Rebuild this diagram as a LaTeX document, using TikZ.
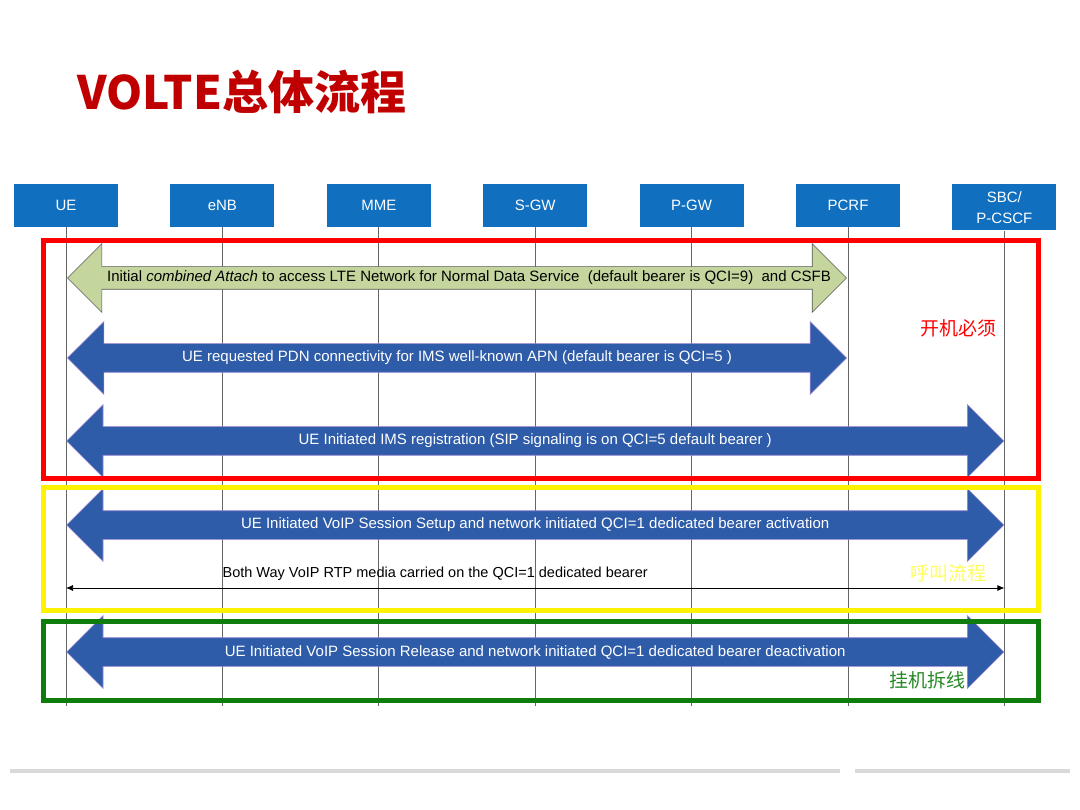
\documentclass[tikz,border=0pt]{standalone}
\usepackage{fontspec}
\setmainfont{Liberation Sans}
\newfontfamily\cjk{Noto Sans CJK SC}
\usepackage{tikz}
\usetikzlibrary{positioning,calc,shapes.arrows,arrows.meta}
\definecolor{boxblue}{RGB}{16,111,190}
\definecolor{arrowblue}{RGB}{46,92,168}
\definecolor{arrowedge}{RGB}{150,130,210}
\definecolor{attachgreen}{RGB}{196,214,158}
\definecolor{titlered}{RGB}{192,0,0}
\definecolor{framegreen}{RGB}{14,125,14}
\definecolor{labelyellow}{RGB}{255,255,90}

\begin{document}
\begin{tikzpicture}[x=1pt,y=-1pt,
  entity/.style={fill=boxblue, text=white, minimum width=104pt, minimum height=43pt, inner sep=0pt, align=center, font=\fontsize{15}{21}\selectfont},
  lifeline/.style={draw=black!60, line width=1pt},
  bigarrow/.style={double arrow, double arrow head extend=22pt, text height=14pt, text depth=14pt, inner sep=0pt, fill=arrowblue, draw=arrowedge, line width=0.6pt},
  attacharrow/.style={bigarrow, double arrow head extend=23pt, text height=11pt, text depth=11pt, fill=attachgreen, draw=black!65},
  msg/.style={text=white, inner sep=0pt, font=\fontsize{15}{16}\selectfont},
  frame/.style={line width=5pt},
  cjklabel/.style={font=\cjk\fontsize{19}{19}\selectfont}]
\useasboundingbox (0,0) rectangle (1080,810);

\node[anchor=west, text=titlered, font=\cjk\bfseries\fontsize{46}{46}\selectfont] (title) at (74,92) {VOLTE总体流程};

\node[entity] (UE) at (66,205.5) {UE};
\node[entity, right=52pt of UE] (eNB) {eNB};
\node[entity, right=52pt of eNB] (MME) {MME};
\node[entity, right=52pt of MME] (SGW) {S-GW};
\node[entity, right=52pt of SGW] (PGW) {P-GW};
\node[entity, right=52pt of PGW] (PCRF) {PCRF};
\node[entity, right=52pt of PCRF, minimum height=46pt, yshift=-2pt] (SBC) {SBC/\\P-CSCF};

\foreach \n in {UE,eNB,MME,SGW,PGW,PCRF,SBC}
  \draw[lifeline] (\n.south) -- (\n.south |- 0,706) coordinate (\n-end);

\coordinate (attachL) at (UE |- 0,278);
\coordinate (attachR) at (PCRF |- 0,278);
\node[attacharrow, minimum height=779pt] (attach) at ($(attachL)!0.5!(attachR)$) {};
\node[msg, text=black, xshift=12pt] (attach-t) at (attach) {Initial \textit{combined Attach} to access LTE Network for Normal Data Service\ \ (default bearer is QCI=9)\ \ and CSFB};

\coordinate (pdnL) at (UE |- 0,358);
\coordinate (pdnR) at (PCRF |- 0,358);
\node[bigarrow, minimum height=779pt] (pdn) at ($(pdnL)!0.5!(pdnR)$) {};
\node[msg] (pdn-t) at (pdn) {UE requested PDN connectivity for IMS well-known APN (default bearer is QCI=5 )};

\coordinate (imsL) at (UE |- 0,441);
\coordinate (imsR) at (SBC |- 0,441);
\node[bigarrow, minimum height=937pt] (ims) at ($(imsL)!0.5!(imsR)$) {};
\node[msg] (ims-t) at (ims) {UE Initiated IMS registration (SIP signaling is on QCI=5 default bearer )};

\coordinate (setupL) at (UE |- 0,525);
\coordinate (setupR) at (SBC |- 0,525);
\node[bigarrow, minimum height=937pt] (setup) at ($(setupL)!0.5!(setupR)$) {};
\node[msg] (setup-t) at (setup) {UE Initiated VoIP Session Setup and network initiated QCI=1 dedicated bearer activation};

\coordinate (rtpL) at (UE |- 0,588);
\coordinate (rtpR) at (SBC |- 0,588);
\draw[{Latex[length=7pt,width=6pt]}-{Latex[length=7pt,width=6pt]}, line width=0.7pt] (rtpL) -- (rtpR);
\node[anchor=west, inner sep=0pt, font=\fontsize{14.5}{15}\selectfont] (rtp-t) at (eNB |- 0,574) {Both Way VoIP RTP media carried on the QCI=1 dedicated bearer};

\coordinate (releaseL) at (UE |- 0,652);
\coordinate (releaseR) at (SBC |- 0,652);
\node[bigarrow, minimum height=937pt] (release) at ($(releaseL)!0.5!(releaseR)$) {};
\node[msg] (release-t) at (release) {UE Initiated VoIP Session Release and network initiated QCI=1 dedicated bearer deactivation};

\draw[frame, red] (43.5,240.5) rectangle (1038.5,478.5);
\draw[frame, yellow] (43.5,487.5) rectangle (1038.5,610);
\draw[frame, framegreen] (43.5,621.5) rectangle (1038.5,700);

\node[cjklabel, text=red] (boot) at (958,328) {开机必须};
\node[cjklabel, text=labelyellow] (call) at (948,573) {呼叫流程};
\node[cjklabel, text=framegreen!90!white] (hangup) at (927,680) {挂机拆线};

\draw[black!15, line width=4pt] (10,771) -- (840,771) (855,771) -- (1070,771);
\end{tikzpicture}
\end{document}
